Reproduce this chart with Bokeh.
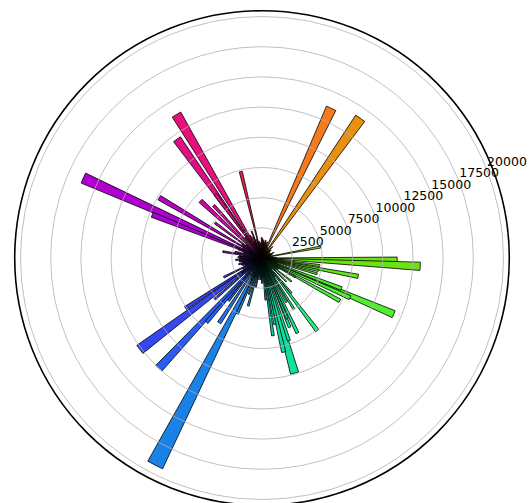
import math
from bokeh.plotting import figure
from bokeh.models import ColumnDataSource
from bokeh.embed import file_html
from bokeh.resources import INLINE
from bokeh.core.properties import value

# bar direction (deg, counter-clockwise from east), angular width (deg), height
angles = [65.2, 54.9, 10.6, 103.8, 120.8, 125.6, 155.9, 149.6, 158.5, 137.1,
          132.7, 126.2, 143.2, 170.7, 181.0, 111.2, 216.8, 226.9, 229.2, 236.6,
          213.2, 206.7, 246.0, 242.7, 215.6, 253.9, 285.8, 283.0, 307.3, 295.3,
          291.8, 292.5, 358.9, 357.0, 336.9, 349.2, 339.0, 335.7, 331.2, 352.6,
          344.0, 330.0, 321.5, 347.5, 278.0, 288.0, 281.0, 275.0, 299.0, 302.0,
          316.0, 310.0, 250.0, 258.0, 265.0, 232.0, 221.0,
          2.0, 18.0, 25.0, 33.0, 41.0, 47.0, 72.0, 78.0, 84.0, 88.0, 93.0, 97.0,
          108.0, 116.0, 140.0, 163.0, 175.0, 186.0, 192.0, 198.0, 203.0, 222.0,
          233.0, 249.0, 257.0, 262.0, 268.0, 272.0, 276.0, 296.0, 301.0, 313.0,
          318.0, 325.0, 342.0, 354.0,
          6.0, 14.0, 22.0, 29.0, 37.0, 44.0, 51.0, 59.0, 68.0, 75.0, 81.0, 91.0,
          100.0, 106.0, 113.0, 118.0, 129.0, 146.0, 152.0, 160.0, 167.0, 178.0,
          184.0, 189.0, 195.0, 201.0, 209.0, 219.0, 225.0, 239.0, 244.0, 255.0,
          260.0, 270.0, 287.0, 304.0, 320.0, 328.0, 334.0, 345.0, 351.0, 356.0]
widths = [3.6, 3.7, 2.0, 2.0, 3.4, 3.3, 3.2, 2.4, 2.6, 3.0,
          2.4, 2.5, 2.2, 2.5, 2.5, 2.0, 3.8, 3.2, 2.5, 2.8,
          2.2, 2.4, 2.5, 4.1, 2.0, 2.2, 4.0, 2.5, 2.5, 2.2,
          2.2, 2.0, 3.0, 3.0, 3.0, 2.5, 2.5, 2.5, 2.5, 2.0,
          2.0, 2.0, 2.0, 2.0, 2.0, 2.0, 2.0, 2.0, 2.0, 2.0,
          2.0, 2.0, 2.0, 2.0, 2.0, 2.0, 2.0,
          2.0, 2.0, 2.0, 2.0, 2.0, 2.0, 2.0, 2.0, 2.0, 2.0, 2.0, 2.0,
          2.0, 2.0, 2.0, 2.0, 2.0, 2.0, 2.0, 2.0, 2.0, 2.0,
          2.0, 2.0, 2.0, 2.0, 2.0, 2.0, 2.0, 2.0, 2.0, 2.0,
          2.0, 2.0, 2.0, 2.0,
          2.5, 2.5, 2.5, 2.5, 2.5, 2.5, 2.5, 2.5, 2.5, 2.5, 2.5, 2.5,
          2.5, 2.5, 2.5, 2.5, 2.5, 2.5, 2.5, 2.5, 2.5, 2.5,
          2.5, 2.5, 2.5, 2.5, 2.5, 2.5, 2.5, 2.5, 2.5, 2.5,
          2.5, 2.5, 2.5, 2.5, 2.5, 2.5, 2.5, 2.5, 2.5, 2.5]
heights = [13660, 14150, 4930, 7370, 13830, 12100, 16210, 9860, 9770, 6950,
           5920, 6520, 4860, 3290, 1850, 2380, 12640, 12500, 7030, 6430,
           7570, 3540, 5060, 19300, 2020, 4130, 9910, 8000, 7550, 6870,
           6170, 5450, 11200, 13120, 11860, 8110, 7050, 8000, 7350, 4820,
           4750, 3200, 3120, 4790, 6500, 7200, 5600, 3500, 4200, 5000,
           2800, 3800, 3200, 2500, 1800, 4500, 5200,
           1200, 900, 1100, 800, 1000, 1300, 1400, 1500, 1450, 1600, 1300, 1200,
           1100, 1500, 1700, 1600, 1900, 1900, 1700, 1800, 1500, 1600,
           1400, 1700, 1300, 1500, 1800, 1600, 1400, 1300, 1500, 1200,
           1400, 1600, 1300, 1100,
           900, 700, 800, 600, 700, 900, 800, 1000, 1100, 1200, 1300, 1700,
           1400, 1600, 1900, 2100, 2200, 2000, 1800, 2100, 2300, 2000,
           2200, 1900, 2000, 1700, 1800, 2100, 1900, 1700, 2000, 1600,
           1800, 2100, 2300, 1900, 1500, 1700, 1400, 1300, 1200, 1000]

r_ticks = [2500, 5000, 7500, 10000, 12500, 15000, 17500, 20000]
r_tick_labels = ["2500", "5000", "7500", "10000", "12500", "15000", "17500", "20000"]
r_max = 20480
label_angle_deg = 22.5

# colour ramp: hue position (deg, clockwise from north) -> colour
ramp_pos = [25, 35, 90, 113, 143, 165, 208, 223, 238, 294, 330, 347]
ramp_col = ["#f47a20", "#e8900f", "#70e010", "#50f030", "#20f080", "#10e0a0",
            "#1a80e8", "#2a5cf0", "#3a3ef0", "#b000d0", "#e8107a", "#f02050"]


def _rgb(hx):
    return [int(hx[i:i + 2], 16) for i in (1, 3, 5)]


def ramp_color(a):
    h = (90.0 - a) % 360.0
    pos = ramp_pos + [ramp_pos[0] + 360]
    cols = ramp_col + [ramp_col[0]]
    if h < pos[0]:
        h += 360
    for i in range(len(pos) - 1):
        if pos[i] <= h <= pos[i + 1]:
            t = (h - pos[i]) / (pos[i + 1] - pos[i])
            c0, c1 = _rgb(cols[i]), _rgb(cols[i + 1])
            c = [round(c0[k] + t * (c1[k] - c0[k])) for k in range(3)]
            return "#%02x%02x%02x" % tuple(c)
    return cols[0]


starts = [math.radians(a - w / 2) for a, w in zip(angles, widths)]
ends = [math.radians(a + w / 2) for a, w in zip(angles, widths)]
colors = [ramp_color(a) for a in angles]

src = ColumnDataSource(dict(r=heights, sa=starts, ea=ends, c=colors,
                            x=[0] * len(heights), y=[0] * len(heights)))

W, H = 532, 503
cx, cy = 261.5, 257.5
u = 20000 / 241.5
p = figure(width=W, height=H, output_backend="svg", toolbar_location=None,
           x_range=(-cx * u, (W - cx) * u), y_range=(-(H - cy) * u, cy * u),
           min_border=0)
p.axis.visible = False
p.grid.visible = False
p.outline_line_color = None
p.background_fill_color = "white"

p.wedge(x="x", y="y", radius="r", start_angle="sa", end_angle="ea",
        fill_color="c", line_color="black", line_width=0.8, source=src)

# radial grid circles (drawn above bars)
p.arc(x=[0] * len(r_ticks), y=[0] * len(r_ticks), radius=r_ticks,
      start_angle=0, end_angle=2 * math.pi, line_color="#b0b0b0", line_width=0.8)
# outer spine
p.arc(x=[0], y=[0], radius=[r_max], start_angle=0, end_angle=2 * math.pi,
      line_color="black", line_width=1.6)

la = math.radians(label_angle_deg)
p.text(x=[r * math.cos(la) for r in r_ticks], y=[r * math.sin(la) for r in r_ticks],
       text=r_tick_labels, text_font=value("DejaVu Sans"), text_font_size="12.5px",
       text_align="left", text_baseline="bottom", text_color="black", x_offset=2)

open("out.html", "w").write(file_html(p, INLINE))
